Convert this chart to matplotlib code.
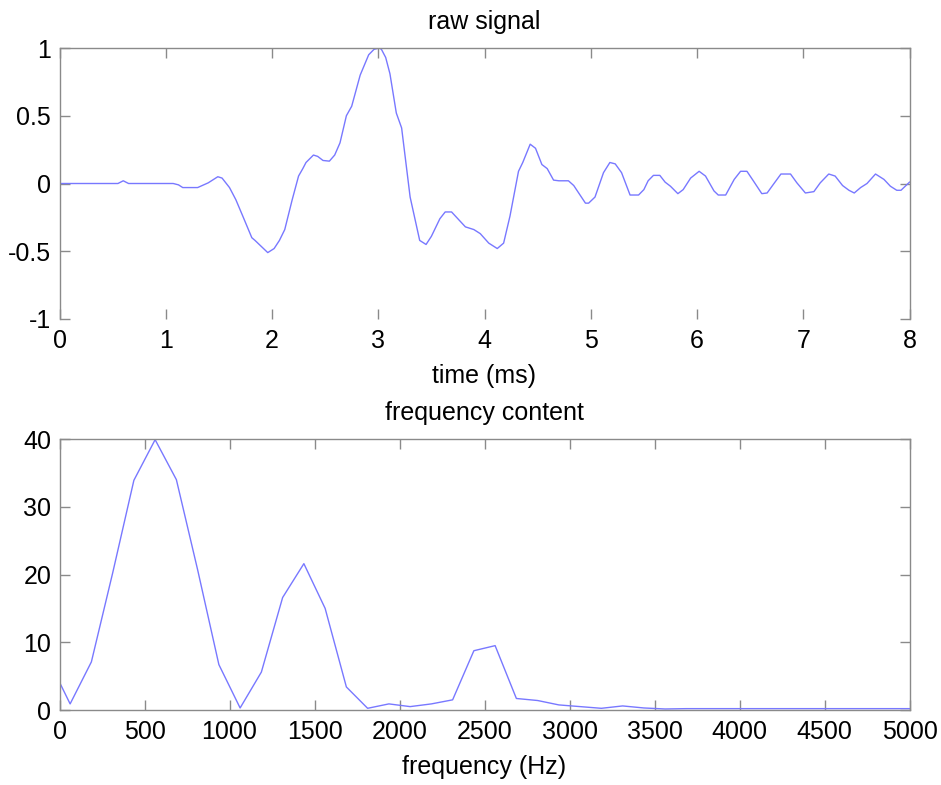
import numpy as np
import matplotlib
matplotlib.use("Agg")
import matplotlib.pyplot as plt

# raw signal (time in ms)
t_ms = [0.0, 0.55, 0.6, 0.65, 1.07, 1.12, 1.16, 1.30, 1.40, 1.49, 1.53, 1.60,
        1.66, 1.73, 1.81, 1.84, 1.96, 2.02, 2.07, 2.12, 2.19, 2.25, 2.29, 2.32,
        2.39, 2.43, 2.48, 2.54, 2.59, 2.64, 2.70, 2.75, 2.83, 2.91, 2.96, 3.01,
        3.03, 3.07, 3.11, 3.17, 3.22, 3.30, 3.39, 3.45, 3.50, 3.58, 3.63, 3.69,
        3.82, 3.90, 3.96, 4.04, 4.12, 4.18, 4.24, 4.32, 4.36, 4.43, 4.48, 4.54,
        4.59, 4.65, 4.70, 4.79, 4.84, 4.95, 4.98, 5.04, 5.12, 5.18, 5.23, 5.29,
        5.37, 5.45, 5.50, 5.54, 5.59, 5.65, 5.70, 5.75, 5.82, 5.87, 5.94, 6.02,
        6.08, 6.16, 6.20, 6.27, 6.35, 6.41, 6.47, 6.53, 6.61, 6.66, 6.72, 6.79,
        6.88, 6.94, 7.02, 7.10, 7.16, 7.24, 7.30, 7.37, 7.43, 7.48, 7.54, 7.60,
        7.68, 7.76, 7.82, 7.88, 7.92, 8.0]
signal = [0.0, 0.0, 0.02, 0.0, 0.0, -0.01, -0.03, -0.03, 0.005, 0.05, 0.04, -0.03,
          -0.12, -0.25, -0.40, -0.42, -0.51, -0.48, -0.42, -0.34, -0.12, 0.055, 0.11, 0.155,
          0.21, 0.20, 0.17, 0.165, 0.21, 0.30, 0.50, 0.57, 0.80, 0.95, 0.99, 1.0,
          0.99, 0.93, 0.81, 0.52, 0.41, -0.10, -0.42, -0.45, -0.39, -0.26, -0.21, -0.21,
          -0.32, -0.34, -0.37, -0.44, -0.48, -0.44, -0.24, 0.09, 0.155, 0.29, 0.26, 0.14,
          0.11, 0.025, 0.02, 0.02, -0.015, -0.145, -0.145, -0.10, 0.08, 0.155, 0.145, 0.08,
          -0.085, -0.085, -0.045, 0.02, 0.06, 0.06, 0.01, -0.02, -0.075, -0.045, 0.04, 0.09,
          0.055, -0.055, -0.085, -0.085, 0.03, 0.09, 0.09, 0.02, -0.075, -0.07, -0.005, 0.07,
          0.07, 0.005, -0.07, -0.06, 0.005, 0.07, 0.055, -0.015, -0.05, -0.07, -0.03, 0.0,
          0.07, 0.03, -0.02, -0.05, -0.05, 0.01]

# spectrum magnitude
freq_hz = [0, 62.5, 187.5, 312.5, 437.5, 562.5, 687.5, 812.5, 937.5, 1062.5,
           1187.5, 1312.5, 1437.5, 1562.5, 1687.5, 1812.5, 1937.5, 2062.5, 2187.5, 2312.5,
           2437.5, 2562.5, 2687.5, 2812.5, 2937.5, 3062.5, 3187.5, 3312.5, 3437.5, 3562.5,
           3687.5, 3812.5, 3937.5, 4062.5, 4187.5, 4312.5, 4437.5, 4562.5, 4687.5, 4812.5,
           4937.5, 5000]
magnitude = [4.1, 0.9, 7.1, 20.2, 33.9, 39.9, 34.0, 20.7, 6.7, 0.3,
             5.6, 16.6, 21.6, 15.0, 3.4, 0.25, 0.9, 0.5, 0.9, 1.5,
             8.75, 9.5, 1.7, 1.4, 0.75, 0.5, 0.25, 0.6, 0.3, 0.15,
             0.2, 0.2, 0.2, 0.2, 0.2, 0.2, 0.2, 0.2, 0.2, 0.2,
             0.2, 0.2]

plt.rcParams['font.family'] = ['Liberation Sans', 'DejaVu Sans']
fs = 18

line_col = '#7878ff'
frame_col = '#8a8a8a'

fig = plt.figure(figsize=(9.41, 7.85), dpi=100)
ax1 = fig.add_axes([59.5 / 941, 1 - 319 / 785, 850 / 941, 271 / 785])
ax2 = fig.add_axes([59.5 / 941, 1 - 710 / 785, 850 / 941, 271 / 785])


def matlab_style(ax):
    for s in ax.spines.values():
        s.set_color(frame_col)
        s.set_linewidth(1.0)
    ax.tick_params(direction='in', length=7, width=1, color=frame_col,
                   top=True, right=True, labelsize=fs)
    ax.tick_params(axis='x', pad=7)
    ax.tick_params(axis='y', pad=6)


ax1.plot(t_ms, signal, color=line_col, lw=1.0)
ax1.set_xlim(0, 8)
ax1.set_ylim(-1, 1)
ax1.set_xticks(range(0, 9))
ax1.set_yticks([-1, -0.5, 0, 0.5, 1])
ax1.set_yticklabels(['-1', '-0.5', '0', '0.5', '1'])
matlab_style(ax1)
ax1.spines['bottom'].set_visible(False)
ax1.set_title('raw signal', fontsize=fs, pad=14)
ax1.set_xlabel('time (ms)', fontsize=fs, labelpad=8)

ax2.plot(freq_hz, magnitude, color=line_col, lw=1.0)
ax2.set_xlim(0, 5000)
ax2.set_ylim(0, 40)
ax2.set_xticks(range(0, 5001, 500))
ax2.set_yticks(range(0, 41, 10))
matlab_style(ax2)
ax2.set_title('frequency content', fontsize=fs, pad=14)
ax2.set_xlabel('frequency (Hz)', fontsize=fs, labelpad=8)

fig.savefig('out.png', dpi=100)
